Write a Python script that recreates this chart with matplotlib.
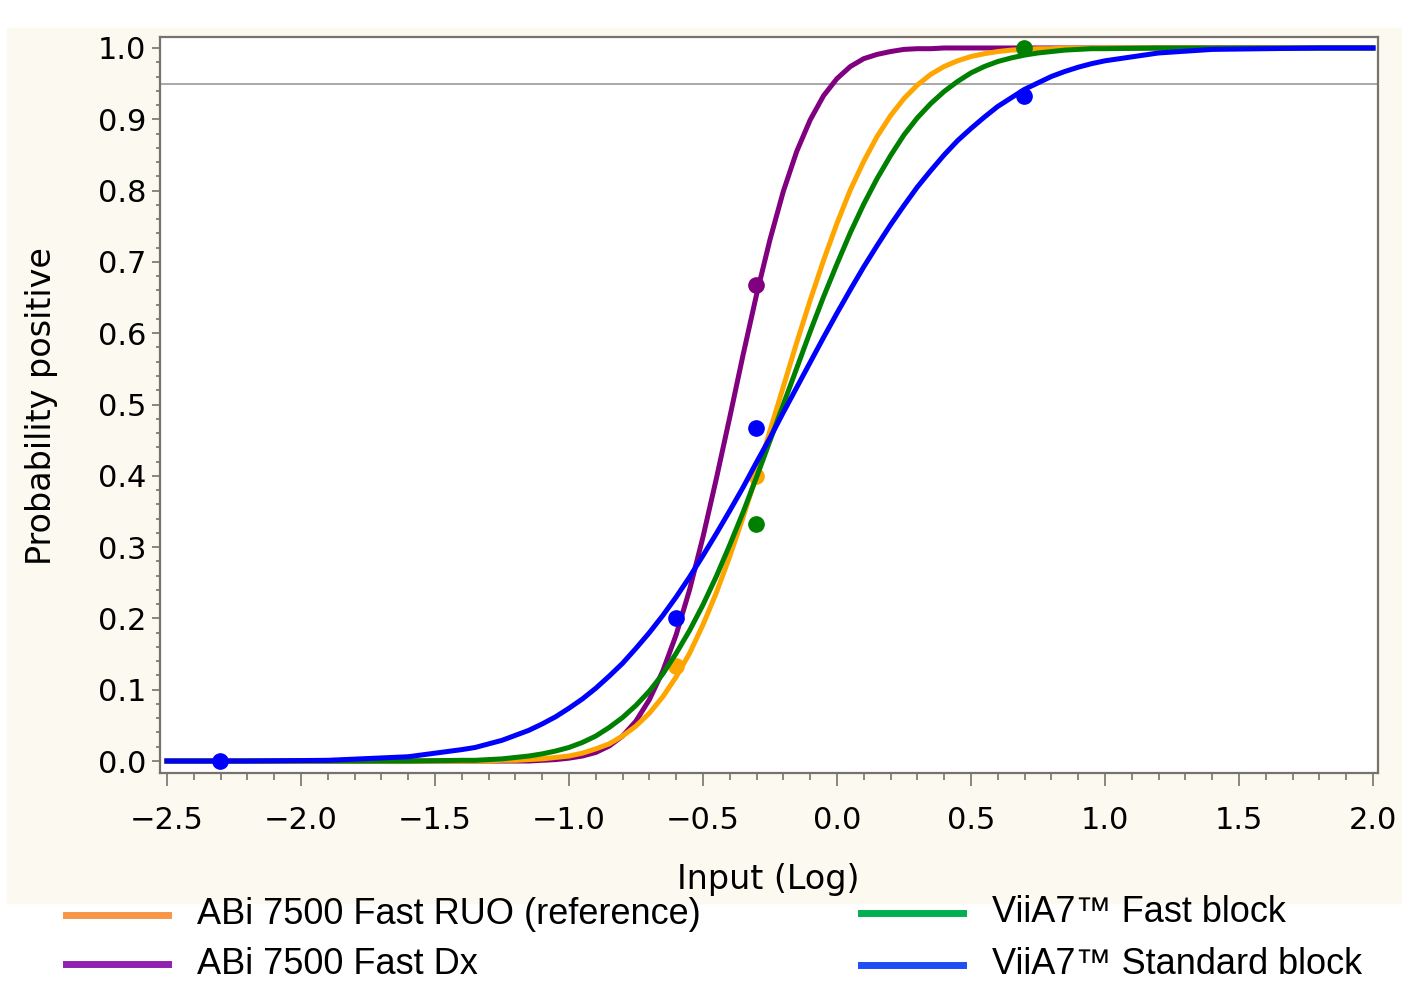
import matplotlib
matplotlib.use('Agg')
import matplotlib.pyplot as plt
from matplotlib.ticker import MultipleLocator, FuncFormatter
from matplotlib.lines import Line2D

# fitted curves at these inputs (log)
curve_x = [-2.5, -2.2, -1.9, -1.6, -1.4, -1.35, -1.3, -1.25, -1.2, -1.15, -1.1, -1.05,
           -1.0, -0.95, -0.9, -0.85, -0.8, -0.75, -0.7, -0.65, -0.6, -0.55, -0.5, -0.45,
           -0.4, -0.35, -0.3, -0.25, -0.2, -0.15, -0.1, -0.05, 0.0, 0.05, 0.1, 0.15,
           0.2, 0.25, 0.3, 0.35, 0.4, 0.45, 0.5, 0.55, 0.6, 0.65, 0.7, 0.75, 0.8, 0.85,
           0.9, 0.95, 1.0, 1.2, 1.4, 1.6, 1.8, 2.0]

ruo_curve = [0, 0, 0, 0, 0, 0, 0, .001, .001, .002, .003, .005, .007, .011, .017, .024,
             .035, .049, .067, .09, .118, .151, .191, .236, .287, .342, .401, .463, .525,
             .587, .646, .702, .754, .801, .841, .876, .905, .929, .948, .963, .974, .982,
             .988, .992, .995, .997, .998, .999, .999, 1, 1, 1, 1, 1, 1, 1, 1, 1]
dx_curve = [0, 0, 0, 0, 0, 0, 0, 0, 0, 0, .001, .002, .004, .007, .012, .021, .035, .056,
            .086, .126, .177, .24, .314, .396, .482, .57, .654, .731, .799, .855, .899,
            .933, .957, .974, .985, .991, .995, .998, .999, .999, 1, 1, 1, 1, 1, 1, 1, 1,
            1, 1, 1, 1, 1, 1, 1, 1, 1, 1]
fast_curve = [0, 0, 0, 0, .001, .001, .002, .003, .005, .007, .01, .014, .019, .026, .035,
              .047, .061, .078, .098, .122, .151, .183, .219, .259, .303, .349, .398, .449,
              .5, .551, .602, .651, .697, .741, .781, .817, .849, .878, .902, .922, .939,
              .953, .965, .974, .981, .986, .99, .993, .995, .997, .998, .999, .999, 1, 1,
              1, 1, 1]
std_curve = [0, 0, .001, .006, .016, .019, .024, .029, .036, .043, .052, .062, .074, .087,
             .102, .119, .137, .158, .18, .204, .23, .258, .288, .319, .351, .384, .419,
             .453, .489, .524, .559, .594, .628, .661, .693, .723, .752, .779, .805, .828,
             .85, .87, .887, .903, .918, .93, .942, .951, .96, .967, .973, .978, .982,
             .993, .998, .999, 1, 1]

# observed hit rates
dx_x, dx_y = [-0.301], [0.667]
ruo_x, ruo_y = [-0.602, -0.301], [0.133, 0.4]
fast_x, fast_y = [-0.301, 0.699], [0.333, 1.0]
std_x, std_y = [-2.301, -0.602, -0.301, 0.699], [0.0, 0.2, 0.467, 0.933]

cutoff = 0.95

leg_labels = ['ABi 7500 Fast RUO (reference)', 'ABi 7500 Fast Dx',
              'ViiA7\u2122 Fast block', 'ViiA7\u2122 Standard block']

fig = plt.figure(figsize=(14.02, 9.90), dpi=100)
bg = plt.Rectangle((7 / 1402, 1 - 903 / 990), 1, (903 - 28) / 990,
                   transform=fig.transFigure, color='#fcf9f1', zorder=-5)
fig.add_artist(bg)
ax = fig.add_axes([160 / 1402, 1 - 773 / 990, 1218 / 1402, 736 / 990])
ax.set_facecolor('white')

ax.axhline(cutoff, color='#a8a8a8', lw=1.4, zorder=1)
series = [(dx_curve, dx_x, dx_y, '#800080'),
          (ruo_curve, ruo_x, ruo_y, '#ffa500'),
          (fast_curve, fast_x, fast_y, '#008000'),
          (std_curve, std_x, std_y, '#0000ff')]
for yc, px, py, c in series:
    ax.plot(curve_x, yc, color=c, lw=3.6, zorder=2)
    ax.plot(px, py, 'o', color=c, ms=11, zorder=2)
ax.set_xlim(-2.526, 2.019)
ax.set_ylim(-0.0168, 1.0154)

spc = '#77736a'
for s in ax.spines.values():
    s.set_color(spc)
    s.set_linewidth(1.6)
fmt = FuncFormatter(lambda v, p: ('%.1f' % v).replace('-', '\u2212'))
ax.xaxis.set_major_locator(MultipleLocator(0.5))
ax.xaxis.set_minor_locator(MultipleLocator(0.1))
ax.yaxis.set_major_locator(MultipleLocator(0.1))
ax.yaxis.set_minor_locator(MultipleLocator(0.02))
ax.xaxis.set_major_formatter(fmt)
ax.yaxis.set_major_formatter(fmt)
ax.tick_params(axis='x', which='major', length=9, width=1.2, color=spc, labelsize=22, pad=15)
ax.tick_params(axis='x', which='minor', length=5, width=1.2, color=spc)
ax.tick_params(axis='y', which='major', length=6, width=1.2, color=spc, labelsize=22, pad=4)
ax.tick_params(axis='y', which='minor', length=3, width=1.2, color=spc)
fig.text(768 / 1402, 1 - 880 / 990, 'Input (Log)', fontsize=24, ha='center', va='center')
fig.text(42 / 1402, 1 - 406 / 990, 'Probability positive', fontsize=24, rotation=90,
         ha='center', va='center')

# legend drawn below the plot, two columns
leg_cols = ['#f79646', '#9022b0', '#00b050', '#1f4ef5']
leg_x = [66, 66, 861, 861]
leg_y = [915, 964, 913, 965]
for lab, c, lx, ly in zip(leg_labels, leg_cols, leg_x, leg_y):
    fig.add_artist(Line2D([lx / 1402, (lx + 102) / 1402], [1 - ly / 990, 1 - ly / 990],
                          color=c, lw=5, transform=fig.transFigure))
    fig.text((lx + 131) / 1402, 1 - ly / 990, lab, fontsize=26, family='Liberation Sans',
             ha='left', va='center')

fig.savefig('out.png')
